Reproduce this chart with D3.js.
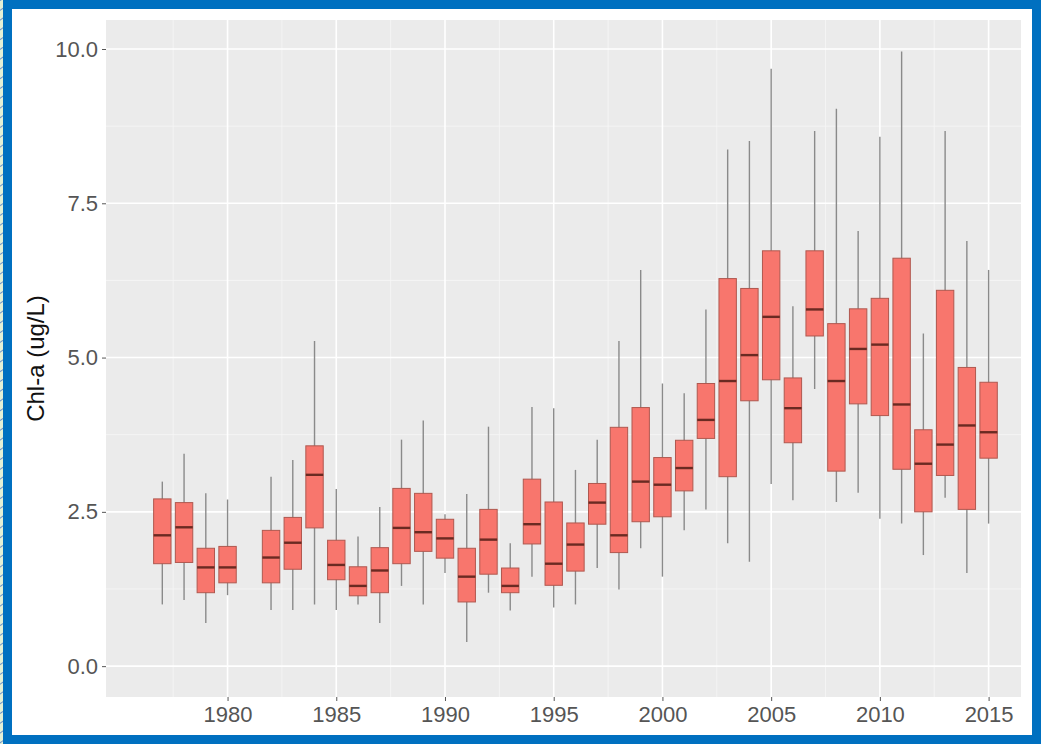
<!DOCTYPE html>
<html>
<head>
<meta charset="utf-8">
<script src="https://cdn.jsdelivr.net/npm/d3@7"></script>
<style>
  html, body { margin: 0; padding: 0; background: #ffffff; }
  svg { display: block; }
  text { font-family: "Liberation Sans", Arial, sans-serif; }
</style>
</head>
<body>
<svg id="chart" width="1041" height="744"></svg>
<script>
// Annual chlorophyll-a distributions (ug/L): whisker ends, quartiles and median
const years   = [1977, 1978, 1979, 1980, 1982, 1983, 1984, 1985, 1986, 1987,
                 1988, 1989, 1990, 1991, 1992, 1993, 1994, 1995, 1996, 1997,
                 1998, 1999, 2000, 2001, 2002, 2003, 2004, 2005, 2006, 2007,
                 2008, 2009, 2010, 2011, 2012, 2013, 2014, 2015];
const lowWhisker  = [1.00, 1.07, 0.70, 1.15, 0.91, 0.91, 1.00, 0.91, 1.00, 0.70,
                     1.30, 1.00, 1.51, 0.39, 1.19, 0.90, 1.45, 0.95, 1.00, 1.59,
                     1.24, 1.91, 1.45, 2.20, 2.54, 1.99, 1.69, 2.95, 2.69, 4.49,
                     2.66, 2.81, 2.39, 2.31, 1.80, 2.73, 1.51, 2.31];
const q1          = [1.66, 1.68, 1.19, 1.35, 1.35, 1.57, 2.24, 1.40, 1.14, 1.19,
                     1.66, 1.86, 1.75, 1.04, 1.49, 1.19, 1.98, 1.31, 1.54, 2.30,
                     1.84, 2.34, 2.42, 2.84, 3.69, 3.07, 4.30, 4.64, 3.62, 5.35,
                     3.16, 4.25, 4.06, 3.19, 2.50, 3.09, 2.54, 3.37];
const medians     = [2.12, 2.25, 1.60, 1.60, 1.76, 2.00, 3.10, 1.64, 1.30, 1.55,
                     2.24, 2.17, 2.07, 1.45, 2.05, 1.30, 2.30, 1.66, 1.97, 2.65,
                     2.12, 2.99, 2.94, 3.21, 3.99, 4.62, 5.04, 5.66, 4.18, 5.78,
                     4.62, 5.14, 5.21, 4.24, 3.28, 3.59, 3.90, 3.79];
const q3          = [2.71, 2.65, 1.91, 1.94, 2.20, 2.41, 3.57, 2.04, 1.61, 1.92,
                     2.88, 2.80, 2.38, 1.91, 2.54, 1.59, 3.03, 2.66, 2.32, 2.96,
                     3.87, 4.19, 3.38, 3.66, 4.58, 6.28, 6.12, 6.73, 4.67, 6.73,
                     5.55, 5.79, 5.96, 6.61, 3.83, 6.09, 4.84, 4.60];
const highWhisker = [2.99, 3.44, 2.80, 2.70, 3.07, 3.34, 5.27, 2.87, 2.10, 2.58,
                     3.67, 3.98, 2.46, 2.79, 3.88, 1.99, 4.20, 4.18, 3.18, 3.67,
                     5.27, 6.42, 4.58, 4.42, 5.78, 8.37, 8.51, 9.68, 5.83, 8.67,
                     9.03, 7.05, 8.58, 9.96, 5.39, 8.67, 6.89, 6.42];

const xTicks = [1980, 1985, 1990, 1995, 2000, 2005, 2010, 2015];
const yTicks = [0, 2.5, 5, 7.5, 10];
const yTitle = "Chl-a (ug/L)";

const svg = d3.select("#chart");
const W = 1041, H = 744;

// Decorative hatched backdrop and blue frame
const defs = svg.append("defs");
const pat = defs.append("pattern")
  .attr("id", "hatch").attr("width", 8).attr("height", 8)
  .attr("patternUnits", "userSpaceOnUse")
  .attr("patternTransform", "rotate(55)");
pat.append("rect").attr("width", 8).attr("height", 8).attr("fill", "#e4f0d6");
pat.append("line").attr("x1", 0).attr("y1", 0).attr("x2", 0).attr("y2", 8)
  .attr("stroke", "#6f93c9").attr("stroke-width", 2);

svg.append("rect").attr("width", W).attr("height", H).attr("fill", "url(#hatch)");
svg.append("rect")
  .attr("x", 7.5).attr("y", 4.5).attr("width", W - 12).attr("height", H - 9)
  .attr("fill", "#ffffff").attr("stroke", "#0070c0").attr("stroke-width", 9);

// Plot panel
const panel = { left: 106, right: 1021, top: 20, bottom: 697 };

const x = d3.scaleLinear().domain([1974.41, 2016.49]).range([panel.left, panel.right]);
const y = d3.scaleLinear().domain([-0.5, 10.47]).range([panel.bottom, panel.top]);

svg.append("rect")
  .attr("x", panel.left).attr("y", panel.top)
  .attr("width", panel.right - panel.left).attr("height", panel.bottom - panel.top)
  .attr("fill", "#ebebeb");

const grid = svg.append("g");
// minor grid lines
const yMinor = d3.range(1.25, 10.3, 2.5);
const xMinor = d3.range(1977.5, 2016, 5);
grid.selectAll(".ymin").data(yMinor).join("line")
  .attr("x1", panel.left).attr("x2", panel.right)
  .attr("y1", d => y(d)).attr("y2", d => y(d))
  .attr("stroke", "#f6f6f6").attr("stroke-width", 0.8);
grid.selectAll(".xmin").data(xMinor).join("line")
  .attr("y1", panel.top).attr("y2", panel.bottom)
  .attr("x1", d => x(d)).attr("x2", d => x(d))
  .attr("stroke", "#f6f6f6").attr("stroke-width", 0.8);
// major grid lines
grid.selectAll(".ymaj").data(yTicks).join("line")
  .attr("x1", panel.left).attr("x2", panel.right)
  .attr("y1", d => y(d)).attr("y2", d => y(d))
  .attr("stroke", "#ffffff").attr("stroke-width", 1.6);
grid.selectAll(".xmaj").data(xTicks).join("line")
  .attr("y1", panel.top).attr("y2", panel.bottom)
  .attr("x1", d => x(d)).attr("x2", d => x(d))
  .attr("stroke", "#ffffff").attr("stroke-width", 1.6);

// Axes
const xAxis = d3.axisBottom(x).tickValues(xTicks).tickFormat(d3.format("d"))
  .tickSize(4).tickPadding(5);
const yAxis = d3.axisLeft(y).tickValues(yTicks).tickFormat(d3.format(".1f"))
  .tickSize(4).tickPadding(4);

const gx = svg.append("g").attr("transform", `translate(0,${panel.bottom})`).call(xAxis);
const gy = svg.append("g").attr("transform", `translate(${panel.left},0)`).call(yAxis);
[gx, gy].forEach(g => {
  g.select(".domain").remove();
  g.selectAll(".tick line").attr("stroke", "#555555").attr("stroke-width", 1);
  g.selectAll(".tick text").attr("fill", "#555555").style("font-size", "22px");
});

svg.append("text")
  .attr("transform", `translate(44,${(panel.top + panel.bottom) / 2}) rotate(-90)`)
  .attr("text-anchor", "middle")
  .attr("fill", "#111111")
  .style("font-size", "24px")
  .text(yTitle);

// Boxplots
const boxW = x(1977.4) - x(1976.6);
const boxes = svg.append("g").selectAll("g").data(years.map((yr, i) => i)).join("g");

boxes.append("line")
  .attr("x1", i => x(years[i])).attr("x2", i => x(years[i]))
  .attr("y1", i => y(highWhisker[i])).attr("y2", i => y(lowWhisker[i]))
  .attr("stroke", "#8a8a8a").attr("stroke-width", 1.4);

boxes.append("rect")
  .attr("x", i => x(years[i]) - boxW / 2)
  .attr("width", boxW)
  .attr("y", i => y(q3[i]))
  .attr("height", i => y(q1[i]) - y(q3[i]))
  .attr("fill", "#f8766d")
  .attr("stroke", "#b0584f").attr("stroke-width", 1);

boxes.append("line")
  .attr("x1", i => x(years[i]) - boxW / 2).attr("x2", i => x(years[i]) + boxW / 2)
  .attr("y1", i => y(medians[i])).attr("y2", i => y(medians[i]))
  .attr("stroke", "#6a2a22").attr("stroke-width", 2.4);
</script>
</body>
</html>
